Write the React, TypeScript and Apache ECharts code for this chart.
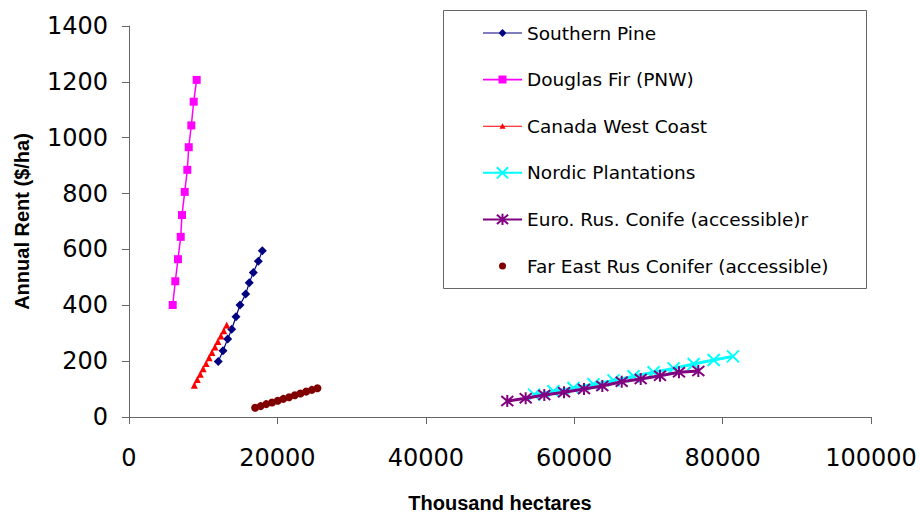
import React, { useEffect, useRef } from "react";
import * as echarts from "echarts";

const seriesNames = [
  "Southern Pine",
  "Douglas Fir (PNW)",
  "Canada West Coast",
  "Nordic Plantations",
  "Euro. Rus. Conife (accessible)r",
  "Far East Rus Conifer (accessible)",
];

const southernPineX = [12030, 12670, 13300, 13840, 14420, 14960, 15730, 16210, 16750, 17430, 17970];
const southernPineY = [199, 237, 279, 314, 359, 401, 440, 481, 517, 558, 595];

const douglasFirX = [5890, 6240, 6600, 6970, 7140, 7510, 7860, 8050, 8400, 8720, 9120];
const douglasFirY = [401, 486, 565, 645, 723, 806, 885, 966, 1044, 1129, 1207];

const canadaX = [8800, 9200, 9600, 9990, 10390, 10790, 11180, 11580, 11980, 12380, 12770, 13170];
const canadaY = [114, 134, 153, 173, 192, 212, 231, 251, 270, 290, 309, 329];

const nordicX = [54600, 57200, 59900, 62600, 65300, 68000, 70700, 73400, 76100, 78800, 81400];
const nordicY = [80, 92, 104, 117, 131, 146, 160, 174, 190, 204, 217];

const euroX = [50980, 53460, 55970, 58630, 61320, 63790, 66400, 68960, 71560, 74120, 76730];
const euroY = [57, 67, 79, 89, 100, 111, 126, 136, 148, 160, 165];

const farEastX = [17000, 17750, 18500, 19280, 20050, 20800, 21580, 22350, 23100, 23880, 24650, 25400];
const farEastY = [33, 39, 46, 52, 58, 65, 71, 78, 84, 91, 97, 103];

const xTicks = [0, 20000, 40000, 60000, 80000, 100000];
const yTicks = [0, 200, 400, 600, 800, 1000, 1200, 1400];

const zip = (xs: number[], ys: number[]) => xs.map((x, i) => [x, ys[i]]);

const CROSS = "path://M0,0L10,10M10,0L0,10";
const ASTER = "path://M0,0L10,10M10,0L0,10M5,-1L5,11";

// legend icons (39x14 box kept via bounding moveTo points)
const BOX = "M0,0M39,14";
const LINE1 = "M0,6.5L39,6.5L39,7.5L0,7.5Z";
const LINE15 = "M0,6.2L39,6.2L39,7.8L0,7.8Z";
const ICON_PINE = "path://" + BOX + LINE1 + "M19.5,3L23.5,7L19.5,11L15.5,7Z";
const ICON_FIR = "path://" + BOX + LINE15 + "M15.5,3L23.5,3L23.5,11L15.5,11Z";
const ICON_CANADA = "path://" + BOX + LINE1 + "M19.5,4L22.5,9.5L16.5,9.5Z";
const ICON_FAREAST = "path://" + BOX + "M23,7A3.5,3.5,0,1,1,16,7A3.5,3.5,0,1,1,23,7Z";

export default function App() {
  const ref = useRef<HTMLDivElement>(null);
  useEffect(() => {
    if (!ref.current) return;
    const chart = echarts.init(ref.current, undefined, { renderer: "svg" });
    const tickFont = { fontFamily: "DejaVu Sans", fontSize: 24, color: "#000", formatter: (v: number) => String(v) };
    const axisLine = { show: true, lineStyle: { color: "#666", width: 1 } };
    chart.setOption({
      animation: false,
      backgroundColor: "#fff",
      grid: { left: 129, right: 49, top: 26, bottom: 97, containLabel: false, outerBoundsMode: "none" },
      xAxis: {
        type: "value",
        min: xTicks[0],
        max: xTicks[xTicks.length - 1],
        interval: xTicks[1] - xTicks[0],
        splitLine: { show: false },
        axisLine,
        axisTick: { show: true, length: 7, lineStyle: { color: "#666" } },
        axisLabel: { ...tickFont, margin: 29 },
        name: "Thousand hectares",
        nameLocation: "middle",
        nameGap: 76,
        nameTextStyle: { fontFamily: "Liberation Sans", fontWeight: "bold", fontSize: 20, color: "#000" },
      },
      yAxis: {
        type: "value",
        min: yTicks[0],
        max: yTicks[yTicks.length - 1],
        interval: yTicks[1] - yTicks[0],
        splitLine: { show: false },
        axisLine,
        axisTick: { show: true, length: 7, lineStyle: { color: "#666" } },
        axisLabel: { ...tickFont, margin: 21 },
        name: "Annual Rent ($/ha)",
        nameLocation: "middle",
        nameGap: 97,
        nameTextStyle: { fontFamily: "Liberation Sans", fontWeight: "bold", fontSize: 20, color: "#000" },
      },
      graphic: [
        {
          type: "rect",
          shape: { x: 443.5, y: 10.5, width: 423, height: 278 },
          style: { fill: "#fff", stroke: "#666", lineWidth: 1 },
          z: -1,
        },
      ],
      legend: {
        orient: "vertical",
        left: 482,
        top: 23,
        padding: 0,
        itemWidth: 39,
        itemHeight: 14,
        itemGap: 26.6,
        textStyle: { fontFamily: "DejaVu Sans", fontSize: 18.5, color: "#000", lineHeight: 20 },
        data: [
          { name: seriesNames[0], icon: ICON_PINE },
          { name: seriesNames[1], icon: ICON_FIR },
          { name: seriesNames[2], icon: ICON_CANADA },
          { name: seriesNames[3] },
          { name: seriesNames[4] },
          { name: seriesNames[5], icon: ICON_FAREAST },
        ],
      },
      series: [
        {
          name: seriesNames[0],
          type: "line",
          data: zip(southernPineX, southernPineY),
          symbol: "diamond",
          symbolSize: 9,
          itemStyle: { color: "#000080" },
          lineStyle: { color: "#000080", width: 1.2 },
          z: 2,
        },
        {
          name: seriesNames[1],
          type: "line",
          data: zip(douglasFirX, douglasFirY),
          symbol: "rect",
          symbolSize: 8,
          itemStyle: { color: "#FF00FF" },
          lineStyle: { color: "#FF00FF", width: 1.5 },
          z: 2,
        },
        {
          name: seriesNames[2],
          type: "line",
          data: zip(canadaX, canadaY),
          symbol: "triangle",
          symbolSize: 7,
          itemStyle: { color: "#FF0000" },
          lineStyle: { color: "#FF0000", width: 1 },
          z: 2,
        },
        {
          name: seriesNames[3],
          type: "line",
          data: zip(nordicX, nordicY),
          symbol: CROSS,
          symbolSize: 12,
          itemStyle: { color: "#00FFFF", borderColor: "#00FFFF", borderWidth: 2 },
          lineStyle: { color: "#00FFFF", width: 3 },
          z: 2,
        },
        {
          name: seriesNames[4],
          type: "line",
          data: zip(euroX, euroY),
          symbol: ASTER,
          symbolSize: 12,
          itemStyle: { color: "#800080", borderColor: "#800080", borderWidth: 2 },
          lineStyle: { color: "#800080", width: 3 },
          z: 3,
        },
        {
          name: seriesNames[5],
          type: "line",
          data: zip(farEastX, farEastY),
          symbol: "circle",
          symbolSize: 8,
          itemStyle: { color: "#800000" },
          lineStyle: { color: "#800000", width: 0, opacity: 0 },
          z: 3,
        },
      ],
    });
    return () => chart.dispose();
  }, []);
  return <div ref={ref} style={{ width: 920, height: 514, position: "absolute", left: 0, top: 0 }} />;
}
